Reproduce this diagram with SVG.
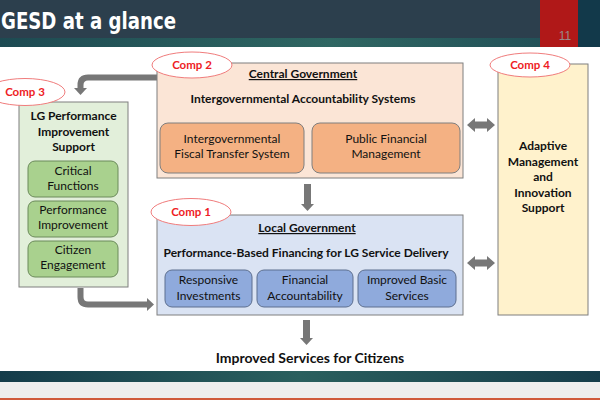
<svg xmlns="http://www.w3.org/2000/svg" width="600" height="400" viewBox="0 0 600 400">
<defs>
<linearGradient id="hdrStrip" x1="0" y1="0" x2="1" y2="0">
<stop offset="0" stop-color="#1d4a52"/>
<stop offset="0.55" stop-color="#2f6662"/>
<stop offset="1" stop-color="#1f4b55"/>
</linearGradient>
<linearGradient id="botBand" x1="0" y1="0" x2="1" y2="0">
<stop offset="0" stop-color="#143c4a"/>
<stop offset="0.5" stop-color="#2a5f5e"/>
<stop offset="1" stop-color="#163d4b"/>
</linearGradient>
<style>
.lbl{font-family:Lato,"Liberation Sans",sans-serif;font-size:12px;fill:#111;text-anchor:middle}
.b{font-weight:bold}
.u{text-decoration:underline}
.box{stroke:#7f7f7f;stroke-width:1}
.comp{fill:#fff;stroke:#f07c7c;stroke-width:1}
.ct{font-family:Lato,"Liberation Sans",sans-serif;font-size:11.5px;font-weight:bold;fill:#ee1c25;text-anchor:middle}
.arr{fill:#777}
.shaft{fill:none;stroke:#777;stroke-width:6}
</style>
</defs>
<!-- header -->
<rect x="0" y="0" width="600" height="47" fill="#2c3f4d"/>
<rect x="0" y="38" width="600" height="9" fill="url(#hdrStrip)"/>
<rect x="578" y="0" width="22" height="47" fill="#12394a"/>
<rect x="540" y="0" width="38" height="47" fill="#b01818"/>
<text x="1" y="29" font-family="'DejaVu Sans',sans-serif" font-weight="bold" font-size="23" fill="#fff" textLength="175" lengthAdjust="spacingAndGlyphs">GESD at a glance</text>
<text x="565" y="40" font-family="'Liberation Sans',sans-serif" font-size="12" fill="#9a8a8a" text-anchor="middle">11</text>
<!-- footer -->
<rect x="0" y="371" width="600" height="11" fill="url(#botBand)"/>
<rect x="0" y="382" width="600" height="16" fill="#eeeeee"/>
<rect x="0" y="398" width="600" height="2" fill="#d05a3c"/>

<g id="connectors">
<path class="shaft" d="M157,77.5 H88 Q80.5,77.5 80.5,85 V89"/>
<polygon class="arr" points="74,88 87,88 80.5,95"/>
<path class="shaft" d="M80.5,288 V297 Q80.5,304.5 88,304.5 H148"/>
<polygon class="arr" points="147,298 147,311 154,304.5"/>
<rect class="arr" x="304" y="184" width="7" height="21"/>
<polygon class="arr" points="301,204 314,204 307.5,211"/>
<rect class="arr" x="303" y="320" width="7" height="19"/>
<polygon class="arr" points="300,338 313,338 306.5,345"/>
<polygon class="arr" points="467,125 475,118 475,121.5 487,121.5 487,118 495,125 487,132 487,128.5 475,128.5 475,132"/>
<polygon class="arr" points="467,263 475,256 475,259.5 487,259.5 487,256 495,263 487,270 487,266.5 475,266.5 475,270"/>
</g>

<g id="comp2">
<rect class="box" x="157" y="63" width="306" height="115" fill="#fbe5d6"/>
<text class="lbl b u" x="303" y="78">Central Government</text>
<text class="lbl b" x="303" y="103">Intergovernmental Accountability Systems</text>
<ellipse class="comp" cx="192" cy="65" rx="40" ry="13"/>
<text class="ct" x="192" y="69">Comp 2</text>
</g>
<g id="ifts">
<rect class="box" x="160" y="123" width="144" height="50" rx="8" fill="#f4b183"/>
<text class="lbl" x="232" y="143">Intergovernmental</text>
<text class="lbl" x="232" y="158">Fiscal Transfer System</text>
</g>
<g id="pfm">
<rect class="box" x="312" y="123" width="148" height="50" rx="8" fill="#f4b183"/>
<text class="lbl" x="386" y="143">Public Financial</text>
<text class="lbl" x="386" y="158">Management</text>
</g>

<g id="comp1">
<rect class="box" x="157" y="215" width="306" height="100" fill="#dae3f3"/>
<text class="lbl b u" x="307" y="232">Local Government</text>
<text class="lbl b" x="306" y="257">Performance-Based Financing for LG Service Delivery</text>
<ellipse class="comp" cx="191" cy="212" rx="40" ry="13.5"/>
<text class="ct" x="191" y="216">Comp 1</text>
</g>
<g id="ri">
<rect x="165" y="270" width="87" height="37" rx="7" fill="#8faadc" stroke="#5d6f8f"/>
<text class="lbl" x="208.5" y="284">Responsive</text>
<text class="lbl" x="208.5" y="300">Investments</text>
</g>
<g id="fa">
<rect x="257" y="270" width="96" height="37" rx="7" fill="#8faadc" stroke="#5d6f8f"/>
<text class="lbl" x="305" y="284">Financial</text>
<text class="lbl" x="305" y="300">Accountability</text>
</g>
<g id="ibs">
<rect x="358" y="270" width="98" height="37" rx="7" fill="#8faadc" stroke="#5d6f8f"/>
<text class="lbl" x="407" y="284">Improved Basic</text>
<text class="lbl" x="407" y="300">Services</text>
</g>

<g id="comp3">
<rect class="box" x="19" y="102" width="109" height="185" fill="#e2efda"/>
<text class="lbl b" x="73.5" y="120">LG Performance</text>
<text class="lbl b" x="73.5" y="136">Improvement</text>
<text class="lbl b" x="73.5" y="151">Support</text>
<ellipse class="comp" cx="25" cy="92" rx="40" ry="13.5"/>
<text class="ct" x="25" y="96">Comp 3</text>
</g>
<g id="cf">
<rect x="28" y="161" width="90" height="36" rx="7" fill="#a9d18e" stroke="#6b8a5a"/>
<text class="lbl" x="73" y="175">Critical</text>
<text class="lbl" x="73" y="190">Functions</text>
</g>
<g id="pi">
<rect x="28" y="201" width="90" height="36" rx="7" fill="#a9d18e" stroke="#6b8a5a"/>
<text class="lbl" x="73" y="214">Performance</text>
<text class="lbl" x="73" y="229">Improvement</text>
</g>
<g id="ce">
<rect x="28" y="241" width="90" height="36" rx="7" fill="#a9d18e" stroke="#6b8a5a"/>
<text class="lbl" x="73" y="254">Citizen</text>
<text class="lbl" x="73" y="269">Engagement</text>
</g>

<g id="comp4">
<rect class="box" x="498" y="64" width="90" height="251" fill="#fff2cc"/>
<text class="lbl b" x="543" y="150">Adaptive</text>
<text class="lbl b" x="543" y="165.5">Management</text>
<text class="lbl b" x="543" y="181">and</text>
<text class="lbl b" x="543" y="196.5">Innovation</text>
<text class="lbl b" x="543" y="212">Support</text>
<ellipse class="comp" cx="530" cy="65" rx="40" ry="12"/>
<text class="ct" x="530" y="69">Comp 4</text>
</g>

<g id="outcome">
<text class="lbl b" x="310" y="363" style="font-size:14px">Improved Services for Citizens</text>
</g>
</svg>
